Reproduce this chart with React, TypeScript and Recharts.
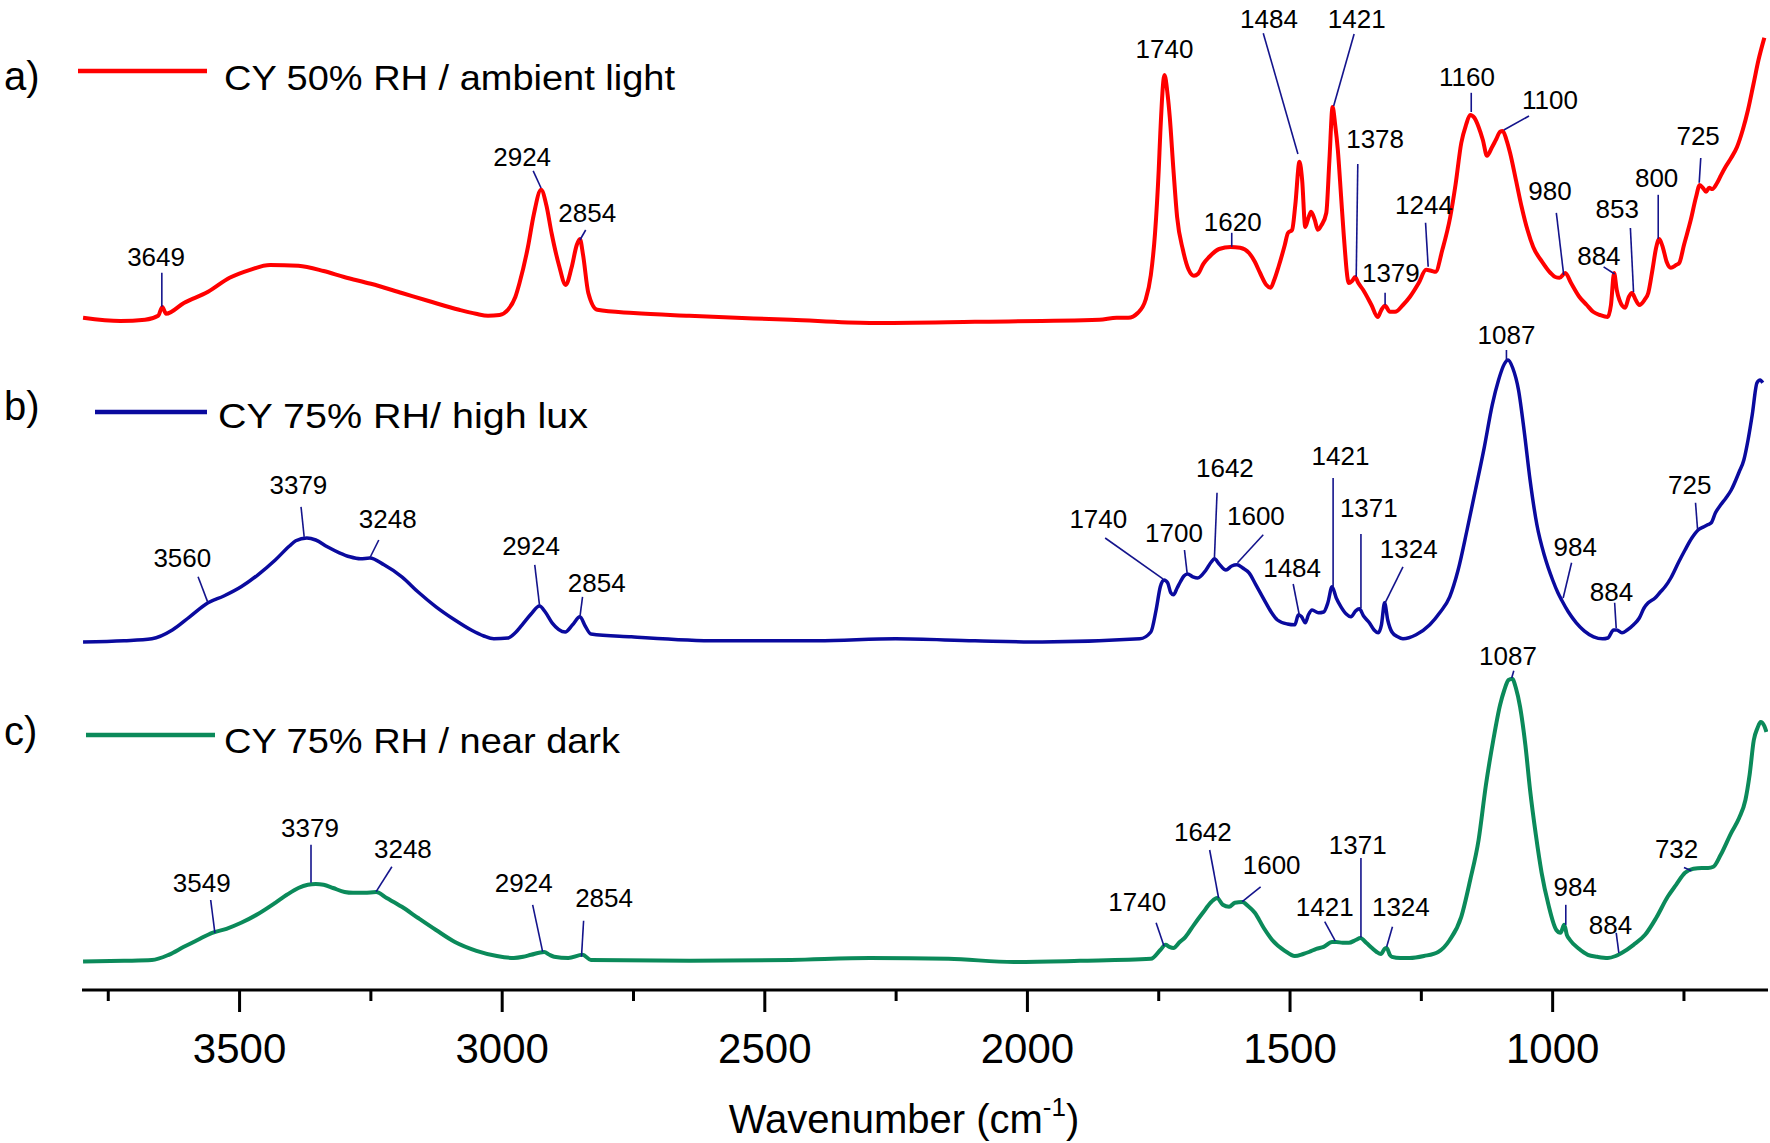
import React from 'react'
import {
  LineChart,
  Line,
  XAxis,
  YAxis,
  ReferenceLine,
  ReferenceDot,
} from 'recharts'

const FONT = '"Liberation Sans", Arial, sans-serif'
const W = 1770
const H = 1143

const RED = '#ff0000'
const BLUE = '#0a0a9e'
const GREEN = '#0b8a5a'
const LEADER = '#14148c'

// x axis
const MAJOR_TICKS = [3500, 3000, 2500, 2000, 1500, 1000]
const ALL_TICKS = [3750, 3500, 3250, 3000, 2750, 2500, 2250, 2000, 1750, 1500, 1250, 1000, 750]

// vertical stacking of the three spectra (a.u.)
const OFFSET_A = 1.6625
const OFFSET_B = 0.87
const OFFSET_C = 0.07

// a) CY 50% RH / ambient light  -> [wavenumber, absorbance]
const specA: [number, number][] = [
  [3798, 0.018], [3727, 0.010], [3680, 0.013], [3655, 0.023], [3647, 0.045], [3640, 0.028],
  [3606, 0.055], [3560, 0.083], [3519, 0.118], [3480, 0.138], [3442, 0.150], [3388, 0.148],
  [3340, 0.135], [3301, 0.120], [3250, 0.103], [3191, 0.080], [3140, 0.060], [3082, 0.038],
  [3050, 0.028], [3027, 0.023], [3005, 0.025], [2989, 0.038], [2975, 0.070], [2967, 0.105],
  [2951, 0.195], [2940, 0.275], [2926, 0.338], [2916, 0.300], [2906, 0.230], [2892, 0.150],
  [2879, 0.100], [2868, 0.143], [2858, 0.200], [2852, 0.215], [2846, 0.175], [2836, 0.080],
  [2819, 0.038], [2750, 0.030], [2644, 0.023], [2450, 0.013], [2300, 0.005], [2100, 0.008],
  [1863, 0.013], [1830, 0.018], [1808, 0.018], [1790, 0.030], [1775, 0.063], [1765, 0.125],
  [1757, 0.230], [1750, 0.388], [1747, 0.480], [1739, 0.625], [1733, 0.575], [1729, 0.520],
  [1722, 0.388], [1715, 0.270], [1704, 0.188], [1693, 0.138], [1683, 0.123], [1675, 0.128],
  [1665, 0.153], [1654, 0.170], [1635, 0.190], [1613, 0.195], [1595, 0.193], [1578, 0.180],
  [1567, 0.158], [1557, 0.130], [1545, 0.100], [1537, 0.093], [1530, 0.113], [1522, 0.145],
  [1510, 0.200], [1504, 0.230], [1496, 0.238], [1490, 0.300], [1482, 0.408], [1477, 0.363],
  [1471, 0.245], [1465, 0.268], [1460, 0.283], [1453, 0.263], [1447, 0.238], [1440, 0.250],
  [1431, 0.280], [1425, 0.413], [1419, 0.545], [1414, 0.500], [1409, 0.438], [1403, 0.325],
  [1398, 0.230], [1388, 0.105], [1382, 0.110], [1376, 0.120], [1370, 0.105], [1361, 0.088],
  [1345, 0.050], [1333, 0.020], [1326, 0.038], [1319, 0.048], [1310, 0.033], [1300, 0.033],
  [1285, 0.050], [1272, 0.070], [1255, 0.105], [1241, 0.138], [1230, 0.135], [1223, 0.133],
  [1210, 0.188], [1195, 0.270], [1185, 0.350], [1174, 0.455], [1165, 0.500], [1157, 0.525],
  [1149, 0.518], [1141, 0.495], [1133, 0.463], [1125, 0.423], [1116, 0.443], [1108, 0.463],
  [1100, 0.483], [1095, 0.485], [1088, 0.463], [1081, 0.430], [1070, 0.363], [1059, 0.295],
  [1048, 0.238], [1037, 0.195], [1020, 0.158], [1004, 0.130], [995, 0.120], [987, 0.118],
  [976, 0.130], [965, 0.105], [949, 0.070], [935, 0.050], [923, 0.033], [910, 0.025],
  [895, 0.020], [889, 0.050], [883, 0.130], [878, 0.088], [873, 0.063], [862, 0.043],
  [855, 0.070], [849, 0.080], [842, 0.063], [835, 0.050], [825, 0.063], [818, 0.080],
  [810, 0.138], [803, 0.193], [797, 0.215], [790, 0.193], [783, 0.158], [775, 0.143],
  [765, 0.150], [759, 0.155], [750, 0.200], [737, 0.263], [727, 0.320], [720, 0.350],
  [714, 0.343], [708, 0.333], [702, 0.343], [696, 0.340], [687, 0.355], [680, 0.373],
  [671, 0.395], [660, 0.418], [649, 0.445], [638, 0.488], [628, 0.538], [618, 0.600],
  [608, 0.663], [597, 0.718],
]

// b) CY 75% RH / high lux
const specB: [number, number][] = [
  [3798, 0.000], [3720, 0.003], [3667, 0.008], [3628, 0.030], [3595, 0.063], [3560, 0.098],
  [3530, 0.115], [3497, 0.138], [3465, 0.168], [3432, 0.205], [3405, 0.240], [3393, 0.253],
  [3372, 0.260], [3355, 0.255], [3333, 0.238], [3310, 0.223], [3290, 0.213], [3270, 0.208],
  [3252, 0.210], [3225, 0.193], [3191, 0.163], [3160, 0.125], [3126, 0.088], [3090, 0.055],
  [3059, 0.030], [3035, 0.015], [3016, 0.008], [2989, 0.010], [2975, 0.023], [2962, 0.043],
  [2945, 0.070], [2929, 0.090], [2918, 0.075], [2905, 0.048], [2880, 0.025], [2866, 0.043],
  [2852, 0.063], [2842, 0.040], [2831, 0.020], [2754, 0.013], [2590, 0.003], [2400, 0.003],
  [2251, 0.008], [2100, 0.003], [1972, 0.000], [1786, 0.008], [1765, 0.025], [1755, 0.080],
  [1747, 0.138], [1740, 0.155], [1733, 0.148], [1727, 0.123], [1722, 0.118], [1715, 0.135],
  [1709, 0.150], [1702, 0.165], [1695, 0.170], [1685, 0.163], [1676, 0.160], [1660, 0.180],
  [1650, 0.200], [1644, 0.208], [1635, 0.195], [1622, 0.180], [1611, 0.190], [1601, 0.193],
  [1590, 0.185], [1578, 0.173], [1565, 0.143], [1546, 0.098], [1535, 0.073], [1524, 0.055],
  [1505, 0.045], [1491, 0.043], [1484, 0.068], [1478, 0.063], [1471, 0.048], [1465, 0.068],
  [1458, 0.080], [1446, 0.073], [1436, 0.075], [1428, 0.098], [1420, 0.138], [1412, 0.110],
  [1403, 0.088], [1393, 0.070], [1384, 0.063], [1375, 0.078], [1368, 0.083], [1360, 0.065],
  [1349, 0.048], [1340, 0.030], [1332, 0.023], [1326, 0.043], [1320, 0.098], [1314, 0.055],
  [1306, 0.025], [1295, 0.013], [1285, 0.008], [1260, 0.018], [1234, 0.043], [1215, 0.073],
  [1196, 0.113], [1180, 0.180], [1163, 0.280], [1147, 0.380], [1130, 0.488], [1115, 0.593],
  [1103, 0.655], [1092, 0.695], [1085, 0.705], [1076, 0.685], [1065, 0.630], [1054, 0.525],
  [1043, 0.405], [1030, 0.293], [1015, 0.213], [1000, 0.155], [990, 0.123], [983, 0.105],
  [970, 0.075], [955, 0.048], [940, 0.028], [922, 0.013], [905, 0.008], [895, 0.010],
  [884, 0.030], [878, 0.030], [868, 0.023], [858, 0.030], [846, 0.043], [835, 0.060],
  [826, 0.085], [818, 0.098], [805, 0.110], [795, 0.125], [786, 0.138], [775, 0.160],
  [760, 0.200], [748, 0.230], [735, 0.260], [723, 0.280], [712, 0.288], [705, 0.293],
  [698, 0.298], [690, 0.323], [680, 0.343], [670, 0.360], [660, 0.380], [645, 0.425],
  [636, 0.455], [628, 0.505], [620, 0.568], [611, 0.648], [605, 0.655], [600, 0.648],
]

// c) CY 75% RH / near dark
const specC: [number, number][] = [
  [3798, 0.001], [3720, 0.003], [3667, 0.005], [3635, 0.018], [3606, 0.038], [3580, 0.055],
  [3552, 0.073], [3525, 0.083], [3497, 0.098], [3465, 0.120], [3432, 0.148], [3410, 0.168],
  [3388, 0.185], [3370, 0.193], [3355, 0.195], [3340, 0.193], [3322, 0.185], [3300, 0.175],
  [3284, 0.173], [3262, 0.173], [3240, 0.175], [3220, 0.160], [3191, 0.138], [3160, 0.110],
  [3126, 0.080], [3090, 0.050], [3049, 0.028], [3010, 0.015], [2978, 0.010], [2960, 0.013],
  [2945, 0.018], [2920, 0.025], [2910, 0.018], [2901, 0.013], [2874, 0.010], [2847, 0.018],
  [2831, 0.005], [2644, 0.003], [2450, 0.005], [2300, 0.010], [2150, 0.008], [2026, 0.000],
  [1900, 0.003], [1765, 0.008], [1747, 0.030], [1737, 0.043], [1730, 0.038], [1722, 0.035],
  [1710, 0.050], [1699, 0.063], [1683, 0.093], [1666, 0.123], [1650, 0.150], [1639, 0.160],
  [1628, 0.143], [1616, 0.138], [1605, 0.148], [1591, 0.150], [1580, 0.140], [1567, 0.123],
  [1550, 0.085], [1534, 0.055], [1510, 0.028], [1491, 0.015], [1475, 0.020], [1464, 0.025],
  [1450, 0.033], [1436, 0.038], [1420, 0.050], [1412, 0.050], [1400, 0.048], [1388, 0.048],
  [1375, 0.055], [1366, 0.060], [1355, 0.048], [1344, 0.035], [1335, 0.025], [1327, 0.020],
  [1320, 0.033], [1316, 0.035], [1310, 0.018], [1306, 0.013], [1290, 0.010], [1272, 0.010],
  [1245, 0.015], [1218, 0.025], [1196, 0.055], [1174, 0.113], [1157, 0.205], [1141, 0.305],
  [1127, 0.443], [1113, 0.555], [1100, 0.643], [1092, 0.680], [1084, 0.705], [1077, 0.708],
  [1070, 0.685], [1062, 0.638], [1052, 0.543], [1043, 0.430], [1032, 0.318], [1021, 0.223],
  [1008, 0.143], [993, 0.080], [985, 0.073], [978, 0.093], [973, 0.068], [967, 0.055],
  [950, 0.033], [933, 0.018], [915, 0.013], [895, 0.010], [880, 0.015], [868, 0.023],
  [846, 0.043], [824, 0.068], [803, 0.110], [781, 0.163], [765, 0.193], [748, 0.223],
  [732, 0.233], [716, 0.235], [704, 0.235], [694, 0.238], [680, 0.268], [660, 0.323],
  [645, 0.360], [633, 0.405], [625, 0.468], [617, 0.555], [610, 0.585], [604, 0.600],
  [597, 0.590], [593, 0.575],
]

// peak labels: text, label anchor (wavenumber, a.u.), optional leader line
type Note = { text: string; at: [number, number]; from?: [number, number]; to?: [number, number] }

const notesA: Note[] = [
  { text: '3649', at: [3659, 1.833], from: [3648, 1.793], to: [3648, 1.708] },
  { text: '2924', at: [2962, 2.083], from: [2941, 2.048], to: [2926, 2.005] },
  { text: '2854', at: [2838, 1.943], from: [2841, 1.9], to: [2852, 1.875] },
  { text: '1740', at: [1739, 2.353] },
  { text: '1484', at: [1540, 2.428], from: [1551, 2.392], to: [1485, 2.09] },
  { text: '1421', at: [1373, 2.428], from: [1378, 2.39], to: [1417, 2.21] },
  { text: '1378', at: [1338, 2.128], from: [1371, 2.065], to: [1374, 1.783] },
  { text: '1379', at: [1308, 1.793], from: [1319, 1.743], to: [1319, 1.713] },
  { text: '1620', at: [1609, 1.92], from: [1611, 1.893], to: [1611, 1.858] },
  { text: '1244', at: [1245, 1.963], from: [1242, 1.918], to: [1237, 1.808] },
  { text: '1160', at: [1163, 2.283], from: [1155, 2.243], to: [1155, 2.195] },
  { text: '1100', at: [1005, 2.225], from: [1045, 2.185], to: [1093, 2.15] },
  { text: '980', at: [1005, 1.998], from: [993, 1.943], to: [979, 1.788] },
  { text: '884', at: [912, 1.835], from: [903, 1.808], to: [882, 1.79] },
  { text: '853', at: [877, 1.953], from: [852, 1.905], to: [846, 1.745] },
  { text: '800', at: [802, 2.03], from: [799, 1.988], to: [799, 1.878] },
  { text: '725', at: [723, 2.135], from: [718, 2.08], to: [721, 2.018] },
]

const notesB: Note[] = [
  { text: '3560', at: [3609, 1.08], from: [3579, 1.033], to: [3561, 0.971] },
  { text: '3379', at: [3388, 1.263], from: [3383, 1.208], to: [3377, 1.133] },
  { text: '3248', at: [3218, 1.178], from: [3235, 1.125], to: [3252, 1.08] },
  { text: '2924', at: [2945, 1.11], from: [2938, 1.063], to: [2929, 0.963] },
  { text: '2854', at: [2820, 1.018], from: [2847, 0.983], to: [2852, 0.933] },
  { text: '1740', at: [1865, 1.178], from: [1852, 1.13], to: [1742, 1.028] },
  { text: '1700', at: [1721, 1.143], from: [1701, 1.1], to: [1696, 1.043] },
  { text: '1642', at: [1624, 1.305], from: [1639, 1.243], to: [1644, 1.078] },
  { text: '1600', at: [1565, 1.185], from: [1551, 1.138], to: [1600, 1.068] },
  { text: '1484', at: [1496, 1.055], from: [1494, 1.015], to: [1482, 0.935] },
  { text: '1421', at: [1404, 1.335], from: [1418, 1.28], to: [1418, 1.008] },
  { text: '1371', at: [1350, 1.205], from: [1365, 1.14], to: [1365, 0.955] },
  { text: '1324', at: [1274, 1.103], from: [1285, 1.058], to: [1319, 0.968] },
  { text: '1087', at: [1088, 1.638], from: [1088, 1.6], to: [1088, 1.575] },
  { text: '984', at: [957, 1.108], from: [964, 1.068], to: [980, 0.98] },
  { text: '884', at: [888, 0.995], from: [882, 0.968], to: [879, 0.905] },
  { text: '725', at: [739, 1.263], from: [728, 1.218], to: [724, 1.15] },
]

const notesC: Note[] = [
  { text: '3549', at: [3572, 0.268], from: [3555, 0.225], to: [3547, 0.143] },
  { text: '3379', at: [3366, 0.405], from: [3364, 0.363], to: [3364, 0.268] },
  { text: '3248', at: [3189, 0.353], from: [3210, 0.308], to: [3240, 0.246] },
  { text: '2924', at: [2959, 0.268], from: [2942, 0.213], to: [2923, 0.096] },
  { text: '2854', at: [2806, 0.23], from: [2845, 0.173], to: [2849, 0.083] },
  { text: '1740', at: [1791, 0.22], from: [1755, 0.168], to: [1740, 0.11] },
  { text: '1642', at: [1666, 0.395], from: [1653, 0.35], to: [1636, 0.23] },
  { text: '1600', at: [1535, 0.313], from: [1556, 0.258], to: [1591, 0.221] },
  { text: '1421', at: [1434, 0.208], from: [1434, 0.171], to: [1414, 0.123] },
  { text: '1371', at: [1371, 0.363], from: [1365, 0.33], to: [1365, 0.131] },
  { text: '1324', at: [1289, 0.208], from: [1305, 0.158], to: [1316, 0.108] },
  { text: '1087', at: [1085, 0.835], from: [1074, 0.798], to: [1078, 0.78] },
  { text: '984', at: [957, 0.258], from: [975, 0.213], to: [975, 0.163] },
  { text: '884', at: [890, 0.163], from: [879, 0.143], to: [874, 0.093] },
  { text: '732', at: [764, 0.353], from: [750, 0.306], to: [736, 0.298] },
]

const legendTexts = ['CY 50% RH / ambient light', 'CY 75% RH/ high lux', 'CY 75% RH / near dark']
const panelLetters = ['a)', 'b)', 'c)']

const toRows = (spec: [number, number][], offset: number) =>
  spec.map(([w, v]) => ({ w, v: v + offset }))

const rowsA = toRows(specA, OFFSET_A)
const rowsB = toRows(specB, OFFSET_B)
const rowsC = toRows(specC, OFFSET_C)

const allNotes = [...notesA, ...notesB, ...notesC]

function AxisTick(props: any) {
  const { x, y, payload } = props
  const major = MAJOR_TICKS.includes(payload.value)
  return (
    <g>
      <line x1={x} x2={x} y1={y} y2={y + (major ? 22 : 11)} stroke="#000" strokeWidth={3} />
      {major && (
        <text x={x} y={y + 73} textAnchor="middle" fontSize={42} fontFamily={FONT} fill="#000">
          {payload.value}
        </text>
      )}
    </g>
  )
}

function Overlay() {
  const rows = [
    { letterY: 90, lineX: [78, 207], lineY: 71, textX: 224, textY: 90, len: 451, color: RED },
    { letterY: 420, lineX: [95, 207], lineY: 412, textX: 218, textY: 428, len: 370, color: BLUE },
    { letterY: 745, lineX: [86, 215], lineY: 735, textX: 224, textY: 753, len: 396, color: GREEN },
  ]
  return (
    <svg width={W} height={H} style={{ position: 'absolute', left: 0, top: 0, pointerEvents: 'none' }}>
      {rows.map((r, i) => (
        <g key={i}>
          <text x={4} y={r.letterY} fontSize={40} fontFamily={FONT} fill="#000">
            {panelLetters[i]}
          </text>
          <line x1={r.lineX[0]} x2={r.lineX[1]} y1={r.lineY} y2={r.lineY} stroke={r.color} strokeWidth={4.5} />
          <text
            x={r.textX}
            y={r.textY}
            fontSize={35}
            fontFamily={FONT}
            fill="#000"
            textLength={r.len}
            lengthAdjust="spacingAndGlyphs"
          >
            {legendTexts[i]}
          </text>
        </g>
      ))}
      <text x={904} y={1133} textAnchor="middle" fontSize={40} fontFamily={FONT} fill="#000">
        Wavenumber (cm
        <tspan fontSize={26} dy={-17}>-1</tspan>
        <tspan dy={17}>)</tspan>
      </text>
    </svg>
  )
}

export default function App() {
  return (
    <div style={{ position: 'absolute', left: 0, top: 0, width: W, height: H, background: '#fff' }}>
      <LineChart width={W} height={H} margin={{ top: 0, right: 2, left: 82, bottom: 0 }}>
        <XAxis
          dataKey="w"
          type="number"
          domain={[590, 3800]}
          reversed
          allowDataOverflow
          ticks={ALL_TICKS}
          interval={0}
          tickSize={0}
          tickMargin={0}
          tick={<AxisTick />}
          tickLine={false}
          axisLine={{ stroke: '#000', strokeWidth: 3 }}
          height={153}
        />
        <YAxis hide type="number" domain={[0, 2.475]} allowDataOverflow />
        <Line data={rowsA} dataKey="v" type="monotone" stroke={RED} strokeWidth={4} dot={false} isAnimationActive={false} />
        <Line data={rowsB} dataKey="v" type="monotone" stroke={BLUE} strokeWidth={3.5} dot={false} isAnimationActive={false} />
        <Line data={rowsC} dataKey="v" type="monotone" stroke={GREEN} strokeWidth={4} dot={false} isAnimationActive={false} />
        {allNotes.map((n, i) =>
          n.from && n.to ? (
            <ReferenceLine
              key={`l${i}`}
              segment={[{ x: n.from[0], y: n.from[1] }, { x: n.to[0], y: n.to[1] }]}
              stroke={LEADER}
              strokeWidth={1.6}
              ifOverflow="visible"
            />
          ) : null
        )}
        {allNotes.map((n, i) => (
          <ReferenceDot
            key={`t${i}`}
            x={n.at[0]}
            y={n.at[1]}
            r={0}
            fill="none"
            stroke="none"
            ifOverflow="visible"
            label={{ value: n.text, position: 'center', fill: '#000', fontSize: 26, fontFamily: FONT }}
          />
        ))}
      </LineChart>
      <Overlay />
    </div>
  )
}
